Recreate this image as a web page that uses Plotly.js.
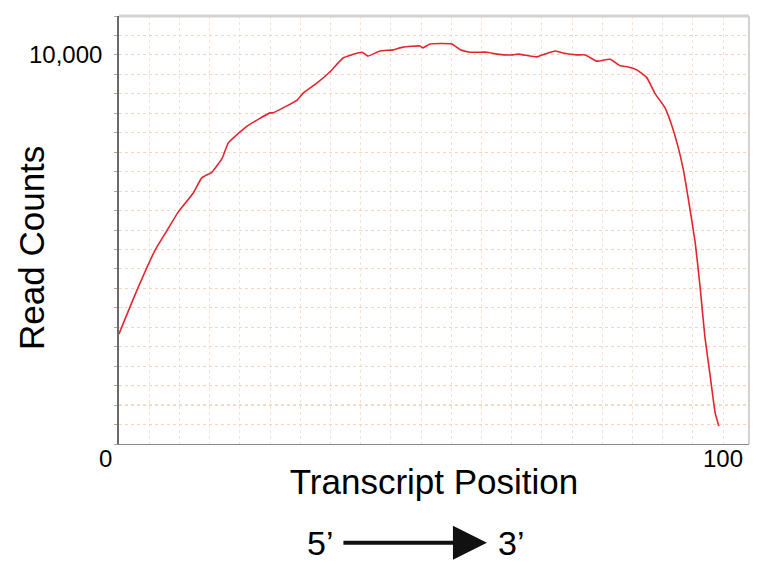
<!DOCTYPE html>
<html>
<head>
<meta charset="utf-8">
<script src="https://cdn.plot.ly/plotly-3.0.1.min.js"></script>
<style>
  html, body { margin: 0; padding: 0; background: #fff; }
  #chart { width: 770px; height: 570px; }
</style>
</head>
<body>
<div id="chart"></div>
<script>
// transcript position (% of length, 5' -> 3') and read counts
const position = [0, 3, 6, 8, 9.8, 12.3, 13.7, 15.4, 17.1, 18.1, 21.2, 25, 25.5, 29.5, 30.5, 32.8, 34.9, 37.1,
  40.2, 41.2, 43.2, 45.4, 47, 49.8, 50.3, 51.5, 55.1, 56.5, 58.1, 60.9, 62.6, 65.2, 66.1, 69.2, 70.5, 72.2,
  73.5, 75.8, 77.2, 79.1, 81.3, 83, 84.3, 85.8, 87.4, 88.7, 90.4, 91.6, 92.6, 93.4, 94.2, 95.4, 96.2, 97,
  97.9, 98.7, 99.3];
const readCounts = [2830, 3960, 4990, 5500, 5960, 6450, 6840, 6990, 7350, 7740, 8170, 8510, 8510, 8840, 9020,
  9280, 9560, 9920, 10070, 9970, 10100, 10130, 10200, 10230, 10180, 10280, 10280, 10130, 10070, 10070, 10020,
  10000, 10020, 9950, 10020, 10100, 10050, 10000, 10000, 9840, 9890, 9720, 9690, 9610, 9410, 9020, 8640,
  8150, 7610, 7070, 6350, 5170, 4040, 2750, 1720, 800, 460];

const xRange = [0, 104.3];
const yRange = [0, 11000];
const emphasisCounts = [1000, 1500];

const FONT = '"Liberation Sans", Arial, Helvetica, sans-serif';

const trace = {
  x: position,
  y: readCounts,
  type: 'scatter',
  mode: 'lines',
  line: { color: '#e3262e', width: 1.6, shape: 'spline', smoothing: 0.4 },
  hoverinfo: 'x+y',
};

const gridShapes = emphasisCounts.map((v) => ({
  type: 'line', xref: 'paper', x0: 0, x1: 1, yref: 'y', y0: v, y1: v,
  line: { color: '#e9b48f', width: 1, dash: 'dot' }, layer: 'below',
}));

const layout = {
  width: 770,
  height: 570,
  margin: { l: 119, r: 21, t: 16, b: 126 },
  paper_bgcolor: 'white',
  plot_bgcolor: 'white',
  showlegend: false,
  font: { family: FONT, color: '#000' },
  xaxis: {
    range: xRange,
    dtick: 5,
    showticklabels: false,
    showgrid: true,
    gridcolor: '#f6e2d4',
    griddash: 'dot',
    zeroline: false,
    showline: true,
    linecolor: '#8a8a8a',
    linewidth: 1,
    ticks: '',
    title: { text: 'Transcript Position', font: { size: 35, family: FONT }, standoff: 25 },
  },
  yaxis: {
    range: yRange,
    dtick: 500,
    showticklabels: false,
    showgrid: true,
    gridcolor: '#f4d6c0',
    griddash: 'dot',
    zeroline: false,
    showline: true,
    linecolor: '#6a6a6a',
    linewidth: 2,
    ticks: 'outside',
    ticklen: 3,
    tickcolor: '#aaa',
  },
  shapes: [
    ...gridShapes,
    { type: 'line', xref: 'paper', yref: 'paper', x0: 0, x1: 1, y0: 1, y1: 1, line: { color: '#d2d2d2', width: 3 } },
    { type: 'line', xref: 'paper', yref: 'paper', x0: 1, x1: 1, y0: 0, y1: 1, line: { color: '#d2d2d2', width: 2 } },
  ],
  annotations: [
    { xref: 'paper', x: 0, xanchor: 'center', xshift: -87, yref: 'paper', y: 0.458, yanchor: 'middle',
      text: 'Read Counts', textangle: -90, showarrow: false, font: { size: 35 } },
    { xref: 'paper', x: 0, xanchor: 'right', xshift: -15, yref: 'y', y: 10000, yanchor: 'middle',
      text: '10,000', showarrow: false, font: { size: 24 } },
    { xref: 'x', x: 0, xanchor: 'center', xshift: -14, yref: 'paper', y: 0, yanchor: 'top', yshift: 1,
      text: '0', showarrow: false, font: { size: 24 } },
    { xref: 'x', x: 100, xanchor: 'center', yref: 'paper', y: 0, yanchor: 'top', yshift: 1,
      text: '100', showarrow: false, font: { size: 24 } },
    { xref: 'paper', x: 0.319, xanchor: 'center', yref: 'paper', y: -0.231, yanchor: 'middle',
      text: '5\u2019', showarrow: false, font: { size: 34 } },
    { xref: 'paper', x: 0.622, xanchor: 'center', yref: 'paper', y: -0.231, yanchor: 'middle',
      text: '3\u2019', showarrow: false, font: { size: 34 } },
    { xref: 'paper', x: 0.584, yref: 'paper', y: -0.231, text: '', showarrow: true,
      axref: 'pixel', ayref: 'pixel', ax: -145, ay: 0,
      arrowhead: 2, arrowsize: 1.7, arrowwidth: 4, arrowcolor: '#111' },
  ],
};

Plotly.newPlot('chart', [trace], layout, { displayModeBar: false, staticPlot: true });
</script>
</body>
</html>
